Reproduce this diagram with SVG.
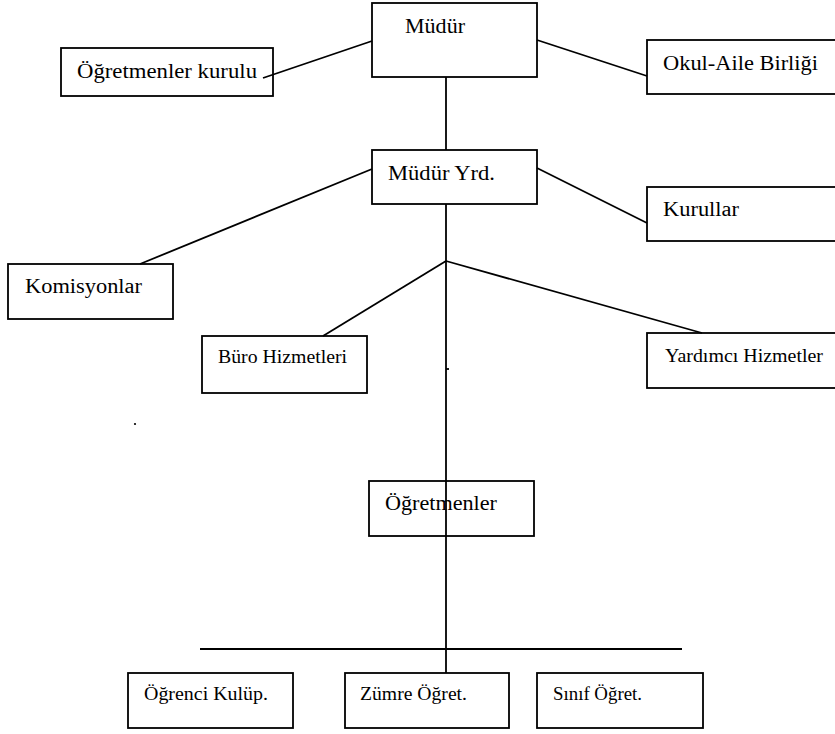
<svg xmlns="http://www.w3.org/2000/svg" width="835" height="734" viewBox="0 0 835 734">
<style>
.box{fill:none;stroke:#000;stroke-width:1.8}
.ln{stroke:#000;stroke-width:1.8;fill:none}
.big{font-size:20px}
.sm{font-size:18px}
.f1{font-family:"Times New Roman","Liberation Serif",Tinos,"Noto Serif","DejaVu Serif",serif}
</style>
<rect width="835" height="734" fill="#fff"/>
<g id="connectors">
<line class="ln" x1="263" y1="78" x2="372" y2="41"/>
<line class="ln" x1="537" y1="40" x2="647" y2="76"/>
<line class="ln" x1="446" y1="77" x2="446" y2="150"/>
<line class="ln" x1="372" y1="169" x2="140" y2="264"/>
<line class="ln" x1="537" y1="168" x2="647" y2="223"/>
<line class="ln" x1="446" y1="204" x2="446" y2="673"/>
<line class="ln" x1="446" y1="369" x2="449" y2="369" stroke-width="1"/>
<line class="ln" x1="446" y1="261" x2="323" y2="336"/>
<line class="ln" x1="446" y1="261" x2="702" y2="333"/>
<line class="ln" x1="200" y1="649" x2="682" y2="649"/>
</g>
<g class="f1" fill="#000">
<g id="mudur"><rect class="box" x="372" y="3" width="165" height="74"/><text class="big" x="405" y="33" textLength="60" lengthAdjust="spacingAndGlyphs">Müdür</text></g>
<g id="ogretmenler-kurulu"><rect class="box" x="61" y="48" width="212" height="48"/><text class="big" x="77" y="78" textLength="180" lengthAdjust="spacingAndGlyphs">Öğretmenler kurulu</text></g>
<g id="okul-aile"><rect class="box" x="647" y="40" width="200" height="54"/><text class="big" x="663" y="70" textLength="155" lengthAdjust="spacingAndGlyphs">Okul-Aile Birliği</text></g>
<g id="mudur-yrd"><rect class="box" x="372" y="150" width="165" height="54"/><text class="big" x="388" y="180" textLength="107" lengthAdjust="spacingAndGlyphs">Müdür Yrd.</text></g>
<g id="kurullar"><rect class="box" x="647" y="187" width="200" height="54"/><text class="big" x="663" y="216" textLength="76" lengthAdjust="spacingAndGlyphs">Kurullar</text></g>
<g id="komisyonlar"><rect class="box" x="8" y="264" width="165" height="55"/><text class="big" x="25" y="293" textLength="117" lengthAdjust="spacingAndGlyphs">Komisyonlar</text></g>
<g id="buro"><rect class="box" x="202" y="336" width="165" height="57"/><text class="sm" x="218" y="363" textLength="129" lengthAdjust="spacingAndGlyphs">Büro Hizmetleri</text></g>
<g id="yardimci"><rect class="box" x="647" y="333" width="200" height="55"/><text class="sm" x="665" y="362" textLength="158" lengthAdjust="spacingAndGlyphs">Yardımcı Hizmetler</text></g>
<g id="dot"><circle cx="135" cy="424" r="1.1" fill="#000"/></g>
<g id="ogretmenler"><rect class="box" x="369" y="481" width="165" height="55"/><text class="big" x="385" y="510" textLength="112" lengthAdjust="spacingAndGlyphs">Öğretmenler</text></g>
<g id="ogrenci-kulup"><rect class="box" x="128" y="673" width="165" height="55"/><text class="sm" x="144" y="700" textLength="124" lengthAdjust="spacingAndGlyphs">Öğrenci Kulüp.</text></g>
<g id="zumre"><rect class="box" x="345" y="673" width="164" height="55"/><text class="sm" x="360" y="700" textLength="107" lengthAdjust="spacingAndGlyphs">Zümre Öğret.</text></g>
<g id="sinif"><rect class="box" x="537" y="673" width="166" height="55"/><text class="sm" x="553" y="700" textLength="89" lengthAdjust="spacingAndGlyphs">Sınıf Öğret.</text></g>
</g>
</svg>
